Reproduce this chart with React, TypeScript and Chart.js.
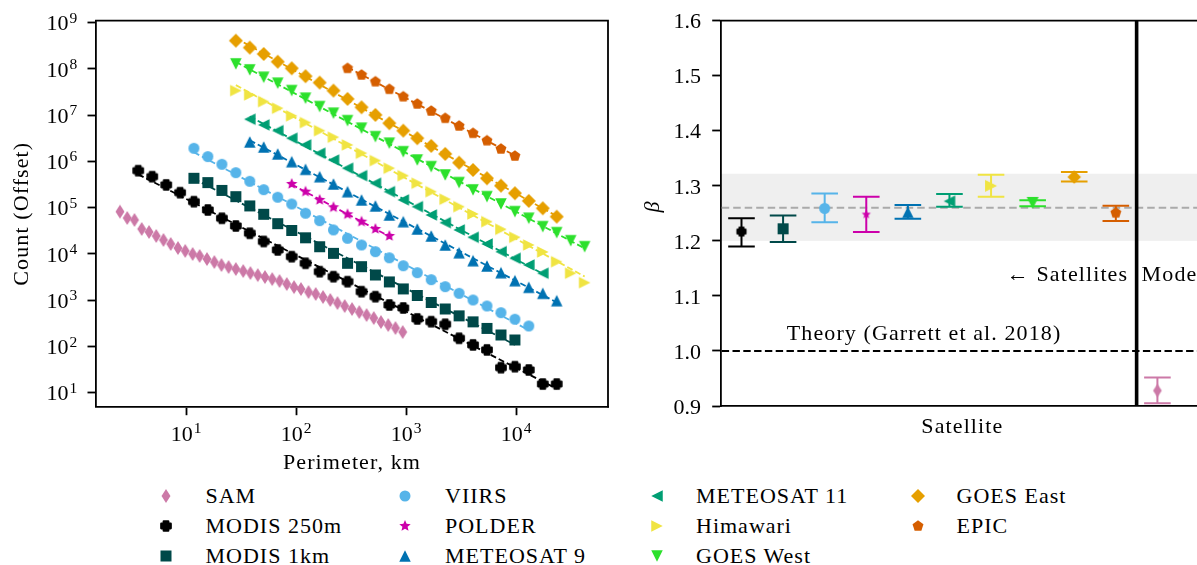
import React, { useEffect, useRef } from 'react';
import { Chart, registerables } from 'chart.js';

Chart.register(...registerables);

const FONT_FAMILY = '"Liberation Serif", "DejaVu Serif", serif';
const TEXT_SPACING = '1.1px';

// ---------------- Left panel data (perimeter in km, count with offset) ----------------
const perimeterBins = [
  3.68, 4.93, 6.61, 8.84, 11.8, 15.8, 21.2, 28.4, 38.0, 50.9, 68.2, 91.4, 122, 164, 219, 294, 394,
  527, 705, 944, 1265, 1694, 2270, 3035, 4064, 5445, 7295, 9772, 13060, 17500, 23440, 31400, 42070,
];

const samPerimeter = [
  2.51, 2.92, 3.4, 3.96, 4.61, 5.36, 6.24, 7.26, 8.45, 9.84, 11.5, 13.3, 15.5, 18.1, 21.0, 24.4,
  28.4, 33.1, 38.5, 44.9, 52.2, 60.8, 70.8, 82.4, 95.9, 111, 130, 151, 176, 205, 238, 277, 323, 376,
  438, 509, 592, 689, 802, 933,
];
const samCount = [
  82000, 59800, 54200, 34600, 29800, 24400, 20000, 16400, 13400, 11600, 9960, 9020, 7760, 6680,
  5750, 5200, 4710, 4260, 3860, 3490, 3160, 2860, 2590, 2230, 1920, 1740, 1500, 1360, 1170, 1010,
  867, 747, 643, 554, 477, 411, 337, 290, 250, 205,
];
const modis250Count = [
  631000, 468000, 310000, 211000, 135000, 89100, 59000, 40200, 27900, 18600, 12200, 8720, 6280,
  4130, 3220, 2510, 1530, 1190, 787, 678, 393, 343, 301, 150, 108, 84, 34.8, 36.5, 31.0, 15.4, 15.4,
];
const modis1kmCount = [
  432000, 348000, 236000, 173000, 109000, 72000, 45100, 32100, 22300, 14300, 10300, 6280, 5300,
  3510, 2480, 1750, 1265, 892, 646, 459, 340, 245, 177, 138,
];
const viirsCount = [
  1920000, 1270000, 867000, 571000, 372000, 245000, 168000, 120000, 75700, 52400, 33000, 21800,
  15600, 11200, 8260, 5550, 3940, 2780, 1960, 1410, 1010, 750, 537, 387, 277,
];
const polderCount = [325000, 222000, 147000, 102000, 72000, 49800, 34600, 24400];
const meteosat9Count = [
  2640000, 2050000, 1450000, 988000, 676000, 468000, 325000, 222000, 147000, 109000, 69500, 49800,
  34600, 24400, 15600, 10600, 7150, 5480, 3940, 2640, 1900, 1410, 975,
];
const meteosat11Count = [
  8150000, 6140000, 4620000, 3170000, 2270000, 1500000, 1070000, 711000, 492000, 337000, 222000,
  147000, 105000, 69500, 47400, 33000, 22900, 16400, 11200, 8050, 5770, 3820,
];
const himawariCount = [
  33900000, 27400000, 19600000, 14100000, 9660000, 6890000, 4620000, 3330000, 2270000, 1500000,
  1040000, 711000, 492000, 337000, 222000, 152000, 105000, 73100, 49800, 34100, 22900, 15600, 11000,
  6790, 3820, 2390,
];
const goesWestCount = [
  128000000, 94900000, 65900000, 49000000, 33900000, 23200000, 15300000, 11000000, 7600000, 5210000,
  3430000, 2470000, 1620000, 1070000, 769000, 509000, 348000, 242000, 173000, 120000, 82000, 59000,
  38800, 28800, 19300, 14300,
];
const goesEastCount = [
  408000000, 288000000, 210000000, 143000000, 103000000, 69300000, 50500000, 33900000, 22400000,
  14800000, 10100000, 6680000, 4620000, 3170000, 2160000, 1450000, 940000, 653000, 432000, 299000,
  205000, 140000, 97000, 63800,
];
const epicCount = [
  103000000, 74000000, 53000000, 36300000, 25100000, 17500000, 12300000, 8570000, 5850000, 4060000,
  2810000, 1860000, 1310000,
];

const countTicks = [1e1, 1e2, 1e3, 1e4, 1e5, 1e6, 1e7, 1e8, 1e9];
const perimeterTicks = [1e1, 1e2, 1e3, 1e4];

// ---------------- Right panel data (beta per satellite) ----------------
const seriesNames = [
  'SAM', 'MODIS 250m', 'MODIS 1km', 'VIIRS', 'POLDER', 'METEOSAT 9', 'METEOSAT 11', 'Himawari',
  'GOES West', 'GOES East', 'EPIC',
];
const betaSlot = [10, 0, 1, 2, 3, 4, 5, 6, 7, 8, 9];
const betaValue = [0.928, 1.217, 1.222, 1.259, 1.248, 1.252, 1.272, 1.3, 1.269, 1.316, 1.251];
const betaLow = [0.905, 1.19, 1.198, 1.234, 1.216, 1.24, 1.262, 1.28, 1.263, 1.308, 1.236];
const betaHigh = [0.952, 1.241, 1.246, 1.286, 1.28, 1.265, 1.285, 1.32, 1.274, 1.325, 1.264];
const betaBand = [1.2, 1.322];
const betaSatelliteMean = 1.26;
const betaTheory = 1.0;
const satelliteModelDivider = 9.5;
const betaTicks = [0.9, 1.0, 1.1, 1.2, 1.3, 1.4, 1.5, 1.6];

// ---------------- Styles ----------------
const seriesColors = [
  '#CC79A7', '#000000', '#004949', '#56B4E9', '#CC00AA', '#0072B2', '#009E73', '#F0E442',
  '#2CE02C', '#E69F00', '#D55E00',
];
const seriesShapes = [
  'thinDiamond', 'plus', 'square', 'circle', 'star', 'triUp', 'triLeft', 'triRight', 'triDown',
  'diamond', 'pentagon',
];
const seriesHasFit = [false, true, true, true, true, true, true, true, true, true, true];
const plotMarkerSize = [14, 11.5, 11, 11, 12, 11.5, 11.5, 11.5, 11.5, 14, 11.5];
const betaMarkerSize = [13.5, 10, 11, 11, 9.5, 11.5, 11.5, 12, 12, 13.5, 11.5];

const leftSeriesX = [
  samPerimeter,
  perimeterBins.slice(0, 31),
  perimeterBins.slice(4, 28),
  perimeterBins.slice(4, 29),
  perimeterBins.slice(11, 19),
  perimeterBins.slice(8, 31),
  perimeterBins.slice(8, 30),
  perimeterBins.slice(7, 33),
  perimeterBins.slice(7, 33),
  perimeterBins.slice(7, 31),
  perimeterBins.slice(15, 28),
];
const leftSeriesY = [
  samCount, modis250Count, modis1kmCount, viirsCount, polderCount, meteosat9Count, meteosat11Count,
  himawariCount, goesWestCount, goesEastCount, epicCount,
];

// ---------------- Marker drawing ----------------
function paintMarker(ctx: CanvasRenderingContext2D, shape: string, cx: number, cy: number, s: number, color: string) {
  const h = s / 2;
  ctx.fillStyle = color;
  ctx.strokeStyle = color;
  const poly = (pts: number[][]) => {
    ctx.beginPath();
    pts.forEach(([px, py], i) => (i === 0 ? ctx.moveTo(cx + px, cy + py) : ctx.lineTo(cx + px, cy + py)));
    ctx.closePath();
  };
  switch (shape) {
    case 'circle':
      ctx.beginPath();
      ctx.arc(cx, cy, h, 0, Math.PI * 2);
      break;
    case 'square':
      ctx.beginPath();
      ctx.rect(cx - h, cy - h, s, s);
      break;
    case 'diamond':
      poly([[0, -h], [h, 0], [0, h], [-h, 0]]);
      break;
    case 'thinDiamond':
      poly([[0, -h], [0.64 * h, 0], [0, h], [-0.64 * h, 0]]);
      break;
    case 'plus': {
      const b = s * 0.2;
      const e = h - 1;
      poly([[-b, -e], [b, -e], [b, -b], [e, -b], [e, b], [b, b], [b, e], [-b, e], [-b, b], [-e, b], [-e, -b], [-b, -b]]);
      ctx.fill();
      ctx.lineWidth = 2.2;
      ctx.lineJoin = 'round';
      ctx.stroke();
      return;
    }
    case 'star': {
      const pts: number[][] = [];
      for (let k = 0; k < 10; k++) {
        const r = k % 2 === 0 ? h : h * 0.45;
        const a = -Math.PI / 2 + (k * Math.PI) / 5;
        pts.push([r * Math.cos(a), r * Math.sin(a)]);
      }
      poly(pts);
      break;
    }
    case 'pentagon': {
      const pts: number[][] = [];
      for (let k = 0; k < 5; k++) {
        const a = -Math.PI / 2 + (k * 2 * Math.PI) / 5;
        pts.push([h * Math.cos(a), h * Math.sin(a)]);
      }
      poly(pts);
      break;
    }
    case 'triUp':
      poly([[0, -h], [h, h], [-h, h]]);
      break;
    case 'triDown':
      poly([[0, h], [h, -h], [-h, -h]]);
      break;
    case 'triLeft':
      poly([[-h, 0], [h, -h], [h, h]]);
      break;
    case 'triRight':
      poly([[h, 0], [-h, -h], [-h, h]]);
      break;
    default:
      ctx.beginPath();
      ctx.arc(cx, cy, h, 0, Math.PI * 2);
  }
  ctx.fill();
}

function makeMarker(shape: string, color: string, s: number): HTMLCanvasElement {
  const c = document.createElement('canvas');
  const n = Math.ceil(s + 4);
  c.width = n;
  c.height = n;
  const ctx = c.getContext('2d')!;
  paintMarker(ctx, shape, n / 2, n / 2, s, color);
  return c;
}

function logFitEnds(xs: number[], ys: number[]) {
  const lx = xs.map(Math.log10);
  const ly = ys.map(Math.log10);
  const n = lx.length;
  const mx = lx.reduce((a, b) => a + b, 0) / n;
  const my = ly.reduce((a, b) => a + b, 0) / n;
  let sxy = 0;
  let sxx = 0;
  for (let i = 0; i < n; i++) {
    sxy += (lx[i] - mx) * (ly[i] - my);
    sxx += (lx[i] - mx) * (lx[i] - mx);
  }
  const slope = sxy / sxx;
  const icpt = my - slope * mx;
  return [
    { x: xs[0], y: Math.pow(10, icpt + slope * lx[0]) },
    { x: xs[n - 1], y: Math.pow(10, icpt + slope * lx[n - 1]) },
  ];
}

function drawPower(ctx: CanvasRenderingContext2D, x: number, baseline: number, exponent: string, align: string) {
  const baseFont = `22px ${FONT_FAMILY}`;
  const supFont = `15.5px ${FONT_FAMILY}`;
  ctx.font = baseFont;
  const wb = ctx.measureText('10').width;
  ctx.font = supFont;
  const we = ctx.measureText(exponent).width;
  const gap = 1;
  const total = wb + gap + we;
  const left = align === 'right' ? x - total : x - total / 2;
  ctx.textAlign = 'left';
  ctx.textBaseline = 'alphabetic';
  ctx.fillStyle = '#000';
  ctx.font = baseFont;
  ctx.fillText('10', left, baseline);
  ctx.font = supFont;
  ctx.fillText(exponent, left + wb + gap, baseline - 7.6);
}

function setSpacing(ctx: any, v: string) {
  if ('letterSpacing' in ctx) ctx.letterSpacing = v;
}

const FRAME_W = 1.8;
const TICK_LEN = 8.5;

const leftDecor = {
  id: 'leftDecor',
  afterDraw(chart: any) {
    const { ctx, chartArea: a, scales } = chart;
    ctx.save();
    ctx.strokeStyle = '#000';
    ctx.lineWidth = FRAME_W;
    ctx.beginPath();
    ctx.moveTo(a.left - FRAME_W / 2, a.top);
    ctx.lineTo(a.right, a.top);
    ctx.lineTo(a.right, a.bottom + FRAME_W / 2);
    ctx.stroke();
    for (const t of scales.y.ticks) {
      const py = scales.y.getPixelForValue(t.value);
      drawPower(ctx, a.left - TICK_LEN - 10.2, py + 7.7, String(Math.round(Math.log10(t.value))), 'right');
    }
    for (const t of scales.x.ticks) {
      const px = scales.x.getPixelForValue(t.value);
      drawPower(ctx, px, a.bottom + 34, String(Math.round(Math.log10(t.value))), 'center');
    }
    setSpacing(ctx, TEXT_SPACING);
    ctx.fillStyle = '#000';
    ctx.font = `22px ${FONT_FAMILY}`;
    ctx.textAlign = 'center';
    ctx.textBaseline = 'alphabetic';
    ctx.fillText('Perimeter, km', (a.left + a.right) / 2, a.bottom + 62.3);
    ctx.translate(22, (a.top + a.bottom) / 2);
    ctx.rotate(-Math.PI / 2);
    ctx.textBaseline = 'middle';
    ctx.fillText('Count (Offset)', 0, 0);
    setSpacing(ctx, '0px');
    ctx.restore();
  },
};

const rightDecor = {
  id: 'rightDecor',
  beforeDraw(chart: any) {
    const { ctx, chartArea: a, scales } = chart;
    const yTop = scales.y.getPixelForValue(betaBand[1]);
    const yBot = scales.y.getPixelForValue(betaBand[0]);
    ctx.save();
    ctx.fillStyle = '#efefef';
    ctx.fillRect(a.left, yTop, a.right - a.left, yBot - yTop);
    ctx.restore();
  },
  beforeDatasetsDraw(chart: any) {
    const { ctx, chartArea: a, scales } = chart;
    const { x, y } = scales;
    ctx.save();
    ctx.lineWidth = 2;
    ctx.setLineDash([7.5, 4]);
    ctx.strokeStyle = '#aaaaaa';
    const ym = y.getPixelForValue(betaSatelliteMean);
    ctx.beginPath();
    ctx.moveTo(a.left + 1, ym);
    ctx.lineTo(a.right, ym);
    ctx.stroke();
    ctx.strokeStyle = '#000';
    ctx.setLineDash([7.4, 3.4]);
    const yt = y.getPixelForValue(betaTheory);
    ctx.beginPath();
    ctx.moveTo(a.left + 1, yt);
    ctx.lineTo(a.right, yt);
    ctx.stroke();
    ctx.setLineDash([]);
    for (let i = 0; i < betaSlot.length; i++) {
      const px = x.getPixelForValue(betaSlot[i]);
      const lo = y.getPixelForValue(betaLow[i]);
      const hi = y.getPixelForValue(betaHigh[i]);
      ctx.strokeStyle = seriesColors[i];
      ctx.lineWidth = 2;
      ctx.beginPath();
      ctx.moveTo(px, lo);
      ctx.lineTo(px, hi);
      ctx.moveTo(px - 13.3, lo);
      ctx.lineTo(px + 13.3, lo);
      ctx.moveTo(px - 13.3, hi);
      ctx.lineTo(px + 13.3, hi);
      ctx.stroke();
    }
    ctx.restore();
  },
  afterDatasetsDraw(chart: any) {
    const { ctx, chartArea: a, scales } = chart;
    const { x, y } = scales;
    ctx.save();
    const dx = x.getPixelForValue(satelliteModelDivider);
    ctx.strokeStyle = '#000';
    ctx.lineWidth = 3.6;
    ctx.beginPath();
    ctx.moveTo(dx, a.top);
    ctx.lineTo(dx, a.bottom);
    ctx.stroke();
    setSpacing(ctx, TEXT_SPACING);
    ctx.fillStyle = '#000';
    ctx.font = `22px ${FONT_FAMILY}`;
    ctx.textBaseline = 'alphabetic';
    ctx.textAlign = 'center';
    ctx.fillText('Theory (Garrett et al. 2018)', x.getPixelForValue(4.39), y.getPixelForValue(1.019));
    ctx.textAlign = 'right';
    ctx.fillText('\u2190 Satellites', dx - 8.5, y.getPixelForValue(1.128));
    ctx.textAlign = 'left';
    ctx.fillText('Models \u2192', dx + 5, y.getPixelForValue(1.128));
    setSpacing(ctx, '0px');
    ctx.restore();
  },
  afterDraw(chart: any) {
    const { ctx, chartArea: a, scales } = chart;
    ctx.save();
    ctx.strokeStyle = '#000';
    ctx.lineWidth = FRAME_W;
    ctx.beginPath();
    ctx.moveTo(a.left - FRAME_W / 2, a.top);
    ctx.lineTo(a.right, a.top);
    ctx.stroke();
    ctx.fillStyle = '#000';
    ctx.font = `22px ${FONT_FAMILY}`;
    ctx.textAlign = 'right';
    ctx.textBaseline = 'alphabetic';
    for (const t of scales.y.ticks) {
      const py = scales.y.getPixelForValue(t.value);
      ctx.fillText(Number(t.value).toFixed(1), a.left - TICK_LEN - 11.2, py + 7.7);
    }
    setSpacing(ctx, TEXT_SPACING);
    ctx.textAlign = 'center';
    ctx.fillText('Satellite', (a.left + a.right) / 2, a.bottom + 26.7);
    setSpacing(ctx, '0px');
    ctx.translate(33, 207);
    ctx.rotate(-Math.PI / 2);
    ctx.textBaseline = 'middle';
    ctx.font = `italic 22px ${FONT_FAMILY}`;
    ctx.fillText('\u03B2', 0, 0);
    ctx.restore();
  },
};

const axisGrid = {
  display: true,
  drawOnChartArea: false,
  drawTicks: true,
  tickLength: TICK_LEN,
  tickWidth: FRAME_W,
  tickColor: '#000',
};
const axisBorder = { display: true, color: '#000', width: FRAME_W };

function LegendMarker({ index, cx, cy }: { index: number; cx: number; cy: number }) {
  const ref = useRef<HTMLCanvasElement>(null);
  useEffect(() => {
    const c = ref.current;
    if (!c) return;
    const ctx = c.getContext('2d')!;
    ctx.clearRect(0, 0, 24, 24);
    paintMarker(ctx, seriesShapes[index], 12, 12, plotMarkerSize[index], seriesColors[index]);
  }, [index]);
  return (
    <canvas
      ref={ref}
      width={24}
      height={24}
      style={{ position: 'absolute', left: cx - 12, top: cy - 12, width: 24, height: 24 }}
    />
  );
}

const legendColumns = [[0, 1, 2], [3, 4, 5], [6, 7, 8], [9, 10]];
const legendMarkerX = [166, 405, 657, 918];
const legendTextX = [205.5, 445, 696, 956.5];
const legendRowY = [496, 526, 555.5];

export default function App() {
  const leftRef = useRef<HTMLCanvasElement>(null);
  const rightRef = useRef<HTMLCanvasElement>(null);

  useEffect(() => {
    const leftMarkers = seriesShapes.map((s, i) => makeMarker(s, seriesColors[i], plotMarkerSize[i]));
    const rightMarkers = seriesShapes.map((s, i) => makeMarker(s, seriesColors[i], betaMarkerSize[i]));

    const fitSets = leftSeriesX
      .map((xs, i) => ({
        label: seriesNames[i] + ' fit',
        data: logFitEnds(xs, leftSeriesY[i]),
        showLine: true,
        pointRadius: 0,
        borderColor: seriesColors[i],
        borderWidth: 1.8,
        borderDash: [6, 3],
        fill: false,
        order: 1,
      }))
      .filter((_, i) => seriesHasFit[i]);
    const pointSets = leftSeriesX.map((xs, i) => ({
      label: seriesNames[i],
      data: xs.map((xv, k) => ({ x: xv, y: leftSeriesY[i][k] })),
      showLine: false,
      pointStyle: leftMarkers[i],
      pointRadius: 5,
      order: 0,
    }));

    const left = new Chart(leftRef.current!, {
      type: 'scatter',
      data: { datasets: [...pointSets, ...fitSets] as any },
      options: {
        responsive: false,
        animation: false,
        devicePixelRatio: 1,
        events: [],
        layout: { padding: { left: 0, top: 20.7, right: 12, bottom: 0 } },
        plugins: { legend: { display: false }, tooltip: { enabled: false } },
        scales: {
          x: {
            type: 'logarithmic',
            min: 1.52,
            max: 68550,
            afterBuildTicks: (s: any) => {
              s.ticks = perimeterTicks.map((v) => ({ value: v }));
            },
            afterFit: (s: any) => {
              s.height = 73.3;
            },
            ticks: { display: false },
            grid: axisGrid,
            border: axisBorder,
          },
          y: {
            type: 'logarithmic',
            min: 4.98,
            max: 1.1e9,
            afterBuildTicks: (s: any) => {
              s.ticks = countTicks.map((v) => ({ value: v }));
            },
            afterFit: (s: any) => {
              s.width = 96;
            },
            ticks: { display: false },
            grid: axisGrid,
            border: axisBorder,
          },
        },
      } as any,
      plugins: [leftDecor],
    });

    const right = new Chart(rightRef.current!, {
      type: 'scatter',
      data: {
        datasets: [
          {
            label: 'beta',
            data: betaSlot.map((sx, i) => ({ x: sx, y: betaValue[i] })),
            pointStyle: rightMarkers as any,
            pointRadius: 5,
            showLine: false,
          },
        ],
      },
      options: {
        responsive: false,
        animation: false,
        devicePixelRatio: 1,
        events: [],
        layout: { padding: { left: 0, top: 20.7, right: 16, bottom: 0 } },
        plugins: { legend: { display: false }, tooltip: { enabled: false } },
        scales: {
          x: {
            type: 'linear',
            min: -0.5,
            max: 11.12,
            afterFit: (s: any) => {
              s.height = 74;
            },
            ticks: { display: false },
            grid: { display: false },
            border: axisBorder,
          },
          y: {
            type: 'linear',
            min: 0.9,
            max: 1.6,
            afterBuildTicks: (s: any) => {
              s.ticks = betaTicks.map((v) => ({ value: v }));
            },
            afterFit: (s: any) => {
              s.width = 100.7;
            },
            ticks: { display: false },
            grid: axisGrid,
            border: axisBorder,
          },
        },
      } as any,
      plugins: [rightDecor],
    });

    return () => {
      left.destroy();
      right.destroy();
    };
  }, []);

  return (
    <div
      style={{
        position: 'fixed',
        left: 0,
        top: 0,
        width: 1197,
        height: 565,
        overflow: 'hidden',
        background: '#fff',
      }}
    >
      <canvas
        ref={leftRef}
        width={620}
        height={480}
        style={{ position: 'absolute', left: 0, top: 0, width: 620, height: 480 }}
      />
      <canvas
        ref={rightRef}
        width={600}
        height={480}
        style={{ position: 'absolute', left: 620, top: 0, width: 600, height: 480 }}
      />
      {legendColumns.map((col, ci) =>
        col.map((si, ri) => (
          <React.Fragment key={si}>
            <LegendMarker index={si} cx={legendMarkerX[ci]} cy={legendRowY[ri]} />
            <div
              style={{
                position: 'absolute',
                left: legendTextX[ci],
                top: legendRowY[ri] - 12.6,
                font: `22px ${FONT_FAMILY}`,
                lineHeight: '25px',
                letterSpacing: '1px',
                whiteSpace: 'nowrap',
                color: '#000',
              }}
            >
              {seriesNames[si]}
            </div>
          </React.Fragment>
        )),
      )}
    </div>
  );
}
